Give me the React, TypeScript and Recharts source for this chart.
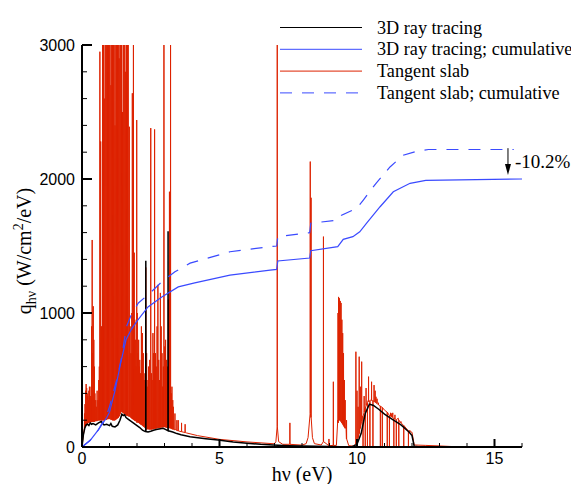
import { LineChart, Line, XAxis, YAxis, ReferenceLine, Label, Customized } from 'recharts';

const RED = '#dd2200';
const BLUE = '#3a4aff';
const SERIF = '"Liberation Serif", "Times New Roman", serif';
const SANS = '"Liberation Sans", Arial, sans-serif';

// axis ticks
const xTicks = [0, 1, 2, 3, 4, 5, 6, 7, 8, 9, 10, 11, 12, 13, 14, 15, 16];
const yTicks = [0, 200, 400, 600, 800, 1000, 1200, 1400, 1600, 1800, 2000, 2200, 2400, 2600, 2800, 3000];

// 3D ray tracing spectrum [hv, q]
const rayTracing: [number, number][] = [
  [0, 0], [0.05, 90], [0.1, 140], [0.15, 165], [0.2, 170], [0.25, 160], [0.3, 180], [0.35, 170],
  [0.4, 175], [0.5, 165], [0.6, 180], [0.7, 190], [0.75, 175], [0.8, 165], [0.9, 170], [1.0, 160],
  [1.05, 175], [1.1, 155], [1.2, 150], [1.3, 165], [1.38, 200], [1.45, 245], [1.5, 235], [1.55, 240],
  [1.6, 220], [1.7, 205], [1.8, 190], [1.9, 175], [2.0, 160], [2.1, 145], [2.2, 125], [2.3, 115],
  [2.316, 115], [2.32, 1390], [2.324, 115], [2.4, 112], [2.5, 118], [2.6, 125], [2.7, 130], [2.8, 135],
  [2.95, 140], [3.05, 130], [3.126, 122], [3.13, 1610], [3.134, 122], [3.2, 118], [3.3, 112], [3.45, 100],
  [3.6, 92], [3.93, 77], [4.5, 62], [4.95, 52], [5.5, 38], [6.0, 28], [6.5, 20], [6.95, 15], [7.5, 10],
  [8.0, 7], [9.0, 3], [9.8, 0], [10.0, 20], [10.15, 100], [10.3, 250], [10.45, 320], [10.6, 310],
  [10.8, 280], [11.0, 245], [11.3, 205], [11.6, 165], [11.9, 110], [12.0, 85], [12.08, 5], [12.3, 0], [13, 0],
];

// cumulative curves [hv, q]
const rayCumulative: [number, number][] = [
  [0, 0], [0.3, 50], [0.6, 130], [0.9, 220], [1.0, 260], [1.2, 420], [1.4, 620], [1.6, 800], [1.8, 880],
  [2.0, 940], [2.4, 1045], [2.9, 1120], [3.5, 1195], [4.1, 1225], [5.38, 1283], [6.84, 1320], [7.08, 1325],
  [7.12, 1388], [8.28, 1410], [8.32, 1465], [9.3, 1495], [9.5, 1550], [9.85, 1570], [10.1, 1606],
  [10.35, 1670], [10.84, 1793], [11.32, 1905], [11.93, 1968], [12.5, 1990], [16, 2000],
];
const slabCumulative: [number, number][] = [
  [0, 0], [0.3, 50], [0.6, 130], [0.9, 240], [1.0, 300], [1.1, 380], [1.26, 500], [1.44, 670], [1.62, 900],
  [1.8, 990], [2.05, 1075], [2.47, 1148], [2.9, 1233], [3.38, 1308], [3.93, 1372], [5.38, 1457], [6.84, 1495],
  [7.08, 1500], [7.12, 1570], [8.28, 1600], [8.32, 1670], [9.3, 1693], [9.44, 1730], [10.0, 1783],
  [10.23, 1843], [10.7, 1970], [11.2, 2090], [11.68, 2177], [12.17, 2207], [12.6, 2220], [15.7, 2220],
];

// tangent slab: continuum [hv, q]
const slabContinuum: [number, number][] = [
  [0, 0], [0.05, 90], [0.1, 150], [0.2, 180], [0.4, 190], [0.6, 200], [0.8, 200], [1.0, 210], [1.2, 200],
  [1.45, 260], [1.7, 230], [2.0, 180], [2.35, 130], [2.7, 140], [3.0, 150], [3.4, 130], [3.8, 105],
  [4.2, 85], [5.0, 57], [6.0, 38], [7.0, 24], [7.05, 40], [7.15, 40], [7.3, 20], [8.0, 14], [8.15, 25],
  [8.22, 70], [8.38, 70], [8.45, 25], [8.7, 15], [9.0, 10], [9.25, 12], [9.3, 200], [9.6, 150], [9.7, 10],
  [9.9, 6], [10.0, 40], [10.1, 130], [10.2, 230], [10.4, 345], [10.5, 350], [10.8, 310], [11.0, 275],
  [11.5, 215], [12.0, 110], [12.08, 15], [12.5, 12], [13.0, 8], [13.5, 3], [14.0, 0],
];

// tangent slab: lines [hv, peak, foot]
const slabLinesLow: [number, number, number][] = [
  [0.09, 250, 140], [0.11, 320, 150], [0.13, 420, 155], [0.15, 470, 160], [0.17, 440, 165], [0.19, 400, 175],
  [0.21, 380, 178], [0.23, 350, 180], [0.25, 420, 182], [0.27, 450, 185], [0.29, 350, 185], [0.31, 380, 186],
  [0.33, 450, 187], [0.35, 900, 188], [0.37, 1545, 190], [0.39, 700, 190], [0.41, 1050, 190], [0.43, 800, 190],
  [0.45, 600, 190], [0.47, 400, 192], [0.5, 350, 195], [0.52, 300, 195], [0.55, 420, 195], [0.58, 350, 198],
  [0.61, 500, 200], [0.63, 600, 200], [0.65, 2950, 200], [0.68, 2280, 200], [0.71, 900, 200], [0.73, 450, 200],
];
const slabLinesDense: [number, number, number][] = [
  [0.75, 5000, 200], [0.78, 5000, 200], [0.81, 2600, 200], [0.84, 5000, 205], [0.87, 5000, 205],
  [0.9, 5000, 205], [0.93, 3000, 210], [0.96, 5000, 210], [0.99, 5000, 210], [1.02, 5000, 210],
  [1.05, 2700, 205], [1.08, 5000, 205], [1.11, 5000, 200], [1.14, 5000, 200], [1.17, 5000, 200],
  [1.2, 2400, 200], [1.23, 5000, 205], [1.26, 5000, 210], [1.29, 5000, 215], [1.32, 5000, 220],
  [1.35, 2900, 230], [1.38, 5000, 245], [1.41, 5000, 260], [1.44, 5000, 265], [1.47, 2500, 260],
  [1.5, 5000, 255], [1.53, 5000, 250], [1.56, 5000, 245], [1.59, 2800, 240], [1.62, 5000, 235],
  [1.65, 5000, 235], [1.68, 5000, 230],
];
const slabLinesMid: [number, number, number][] = [
  [1.72, 2390, 230], [1.75, 900, 225], [1.78, 700, 220], [1.81, 1000, 215], [1.83, 2640, 210],
  [1.85, 700, 208], [1.87, 5000, 205], [1.9, 1450, 200], [1.92, 950, 198], [1.94, 800, 195],
  [1.97, 600, 192], [1.99, 2440, 190], [2.01, 1000, 188], [2.03, 700, 185], [2.06, 800, 182],
  [2.08, 600, 180], [2.1, 650, 175], [2.13, 550, 170], [2.16, 900, 165], [2.2, 850, 160],
  [2.23, 700, 155], [2.26, 500, 150], [2.29, 550, 145], [2.32, 1340, 140], [2.35, 700, 137],
  [2.37, 450, 135], [2.4, 500, 134], [2.42, 600, 133], [2.46, 650, 132], [2.5, 2380, 132],
  [2.53, 550, 132], [2.55, 500, 133], [2.58, 850, 134], [2.6, 700, 135], [2.64, 2370, 137],
  [2.67, 700, 138], [2.7, 600, 140], [2.73, 900, 141], [2.76, 1210, 142], [2.79, 650, 143],
  [2.82, 500, 145], [2.85, 1150, 146], [2.88, 900, 147], [2.91, 700, 148], [2.93, 450, 148],
  [2.96, 600, 149], [2.98, 5000, 150], [3.01, 750, 149], [3.04, 800, 148], [3.07, 650, 146],
  [3.1, 600, 145], [3.12, 500, 144], [3.14, 1100, 143], [3.18, 1905, 142], [3.2, 800, 141],
  [3.22, 5000, 140], [3.25, 400, 137], [3.27, 450, 135], [3.3, 350, 133], [3.32, 300, 132],
  [3.38, 250, 128], [3.45, 200, 124], [3.5, 200, 120], [3.62, 180, 114], [3.75, 170, 108],
];
const slabLinesHigh: [number, number, number][] = [
  [7.1, 5000, 150], [7.56, 180, 20], [8.3, 2130, 250], [8.33, 1860, 220], [8.78, 1570, 40], [8.98, 60, 10],
  [9.14, 487, 12], [9.31, 1000, 180], [9.33, 1120, 200], [9.36, 1110, 200], [9.39, 1090, 200],
  [9.42, 1075, 190], [9.45, 950, 180], [9.48, 850, 170], [9.51, 700, 160], [9.54, 500, 150],
  [9.57, 350, 140], [9.62, 200, 60], [9.96, 711, 30], [10.0, 420, 40], [10.04, 300, 70], [10.08, 674, 100],
  [10.12, 450, 140], [10.17, 637, 190], [10.22, 0, 230], [10.26, 380, 260], [10.3, 0, 290], [10.33, 440, 310],
  [10.38, 0, 330], [10.42, 525, 340], [10.47, 0, 345], [10.53, 487, 348], [10.58, 0, 345], [10.62, 462, 340],
  [10.66, 420, 335], [10.69, 375, 330], [10.73, 360, 325], [10.78, 330, 315], [10.85, 0, 305],
  [10.92, 0, 295], [11.1, 0, 260], [11.18, 0, 235], [11.22, 255, 230], [11.26, 250, 225], [11.3, 255, 220],
  [11.34, 0, 215], [11.38, 240, 210], [11.43, 0, 205], [11.52, 0, 200], [11.6, 190, 180], [11.7, 0, 160],
  [11.87, 0, 120], [11.92, 125, 115],
];

const legendItems = [
  { name: '3D ray tracing', color: '#000', dash: undefined },
  { name: '3D ray tracing; cumulative', color: BLUE, dash: undefined },
  { name: 'Tangent slab', color: RED, dash: undefined },
  { name: 'Tangent slab; cumulative', color: BLUE, dash: '12 10' },
];

const toPts = (arr: [number, number][]) => arr.map(([x, y]) => ({ x, y }));

const slabData = (() => {
  const pts = toPts(slabContinuum);
  [...slabLinesLow, ...slabLinesDense, ...slabLinesMid, ...slabLinesHigh].forEach(([x, peak, foot]) => {
    pts.push({ x: x - 0.004, y: foot }, { x, y: peak }, { x: x + 0.004, y: foot });
  });
  return pts.sort((a, b) => a.x - b.x);
})();

const XTick = ({ x, y, payload }: any) => {
  const major = payload.value % 5 === 0;
  return (
    <g>
      <line x1={x} x2={x} y1={y} y2={y - (major ? 8 : 4)} stroke="#000" strokeWidth={major ? 2 : 1} />
      {major && (
        <text x={x} y={y + 17} textAnchor="middle" fontSize={16} fontFamily={SANS} fill="#000">{payload.value}</text>
      )}
    </g>
  );
};

const YTick = ({ x, y, payload }: any) => {
  const major = payload.value % 1000 === 0;
  return (
    <g>
      <line x1={x} x2={x + (major ? 10 : 5)} y1={y} y2={y} stroke="#000" strokeWidth={major ? 2 : 1} />
      {major && (
        <text x={x - 7} y={y + 6} textAnchor="end" fontSize={16} fontFamily={SANS} fill="#000">{payload.value}</text>
      )}
    </g>
  );
};

// legend drawn inside the chart svg (top right, outside the plot frame)
const LegendBox = () => (
  <g>
    {legendItems.map((it, i) => {
      const cy = 27.5 + i * 21.8;
      return (
        <g key={it.name}>
          <line x1={280} x2={362} y1={cy} y2={cy} stroke={it.color} strokeWidth={1} strokeDasharray={it.dash} />
          <text x={377} y={cy + 6} fontSize={18.2} fontFamily={SERIF} fill="#000">{it.name}</text>
        </g>
      );
    })}
  </g>
);

const ArrowNote = ({ x1, y1, x2, y2 }: any) => (
  <g>
    <line x1={x1} y1={y1} x2={x2} y2={y2 - 10} stroke="#000" strokeWidth={1} />
    <polygon points={`${x2 - 3},${y2 - 11} ${x2 + 3},${y2 - 11} ${x2},${y2}`} fill="#000" />
    <text x={x1 + 7} y={(y1 + y2) / 2 + 6} fontSize={19} fontFamily={SERIF} fill="#000">-10.2%</text>
  </g>
);

const YLabel = () => {
  const cx = 31;
  const cy = 251;
  return (
    <text x={cx} y={cy} transform={`rotate(-90, ${cx}, ${cy})`} textAnchor="middle" fontSize={20} fontFamily={SERIF} fill="#000">
      q<tspan fontSize={14} dy={5}>hν</tspan>
      <tspan dy={-5}> (W/cm</tspan>
      <tspan fontSize={14} dy={-8}>2</tspan>
      <tspan dy={8}>/eV)</tspan>
    </text>
  );
};

const XLabel = ({ viewBox }: any) => (
  <text x={viewBox.x + viewBox.width / 2} y={viewBox.y + 34} textAnchor="middle" fontSize={20} fontFamily={SERIF} fill="#000">
    hν (eV)
  </text>
);

export default function App() {
  return (
    <>
      <style>{'body { margin: 0; }'}</style>
      <LineChart width={571} height={484} margin={{ top: 45, right: 49, bottom: 7, left: 42 }}>
        <XAxis
          dataKey="x" type="number" domain={[0, 16]} ticks={xTicks} interval={0} height={30}
          axisLine={{ stroke: '#000', strokeWidth: 2 }} tickLine={false} tickSize={0} tickMargin={0} tick={<XTick />}
        >
          <Label content={<XLabel />} />
        </XAxis>
        <YAxis
          type="number" domain={[0, 3000]} allowDataOverflow ticks={yTicks} interval={0} width={40}
          axisLine={{ stroke: '#000', strokeWidth: 2 }} tickLine={false} tickSize={0} tickMargin={0} tick={<YTick />}
        >
          <Label content={<YLabel />} />
        </YAxis>
        <Line data={slabData} dataKey="y" name="Tangent slab" stroke={RED} strokeWidth={1} dot={false} activeDot={false} isAnimationActive={false} />
        <Line data={toPts(rayTracing)} dataKey="y" name="3D ray tracing" stroke="#000" strokeWidth={1.5} dot={false} activeDot={false} isAnimationActive={false} />
        <Line data={toPts(rayCumulative)} dataKey="y" name="3D ray tracing; cumulative" stroke={BLUE} strokeWidth={1.2} dot={false} activeDot={false} isAnimationActive={false} />
        <Line data={toPts(slabCumulative)} dataKey="y" name="Tangent slab; cumulative" stroke={BLUE} strokeWidth={1.2} strokeDasharray="12 10" dot={false} activeDot={false} isAnimationActive={false} />
        <ReferenceLine segment={[{ x: 15.49, y: 2230 }, { x: 15.49, y: 2030 }]} shape={<ArrowNote />} />
        <Customized component={LegendBox} />
      </LineChart>
    </>
  );
}
